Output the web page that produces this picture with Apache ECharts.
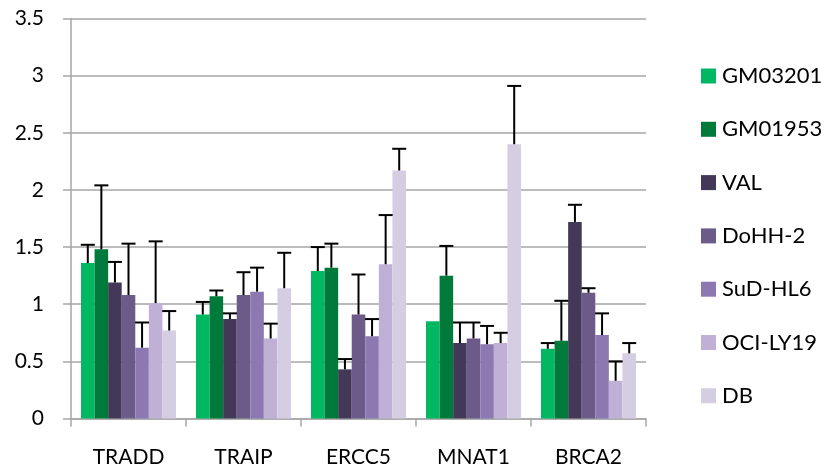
<!DOCTYPE html>
<html><head><meta charset="utf-8">
<script src="https://cdn.jsdelivr.net/npm/echarts@6/dist/echarts.min.js"></script>
<style>html,body{margin:0;padding:0;background:#fff}#c{width:826px;height:471px}</style>
</head><body><div id="c"></div>
<script>
const categories = ['TRADD', 'TRAIP', 'ERCC5', 'MNAT1', 'BRCA2'];
const seriesNames = ['GM03201', 'GM01953', 'VAL', 'DoHH-2', 'SuD-HL6', 'OCI-LY19', 'DB'];
const colors = ['#00B862', '#007A3A', '#433858', '#6C5A89', '#8D78B1', '#C0B0D5', '#D5CDE2'];
const GM03201 = [1.36, 0.91, 1.29, 0.85, 0.61];
const GM01953 = [1.48, 1.07, 1.32, 1.25, 0.68];
const VAL = [1.19, 0.87, 0.43, 0.66, 1.72];
const DoHH2 = [1.08, 1.08, 0.91, 0.70, 1.10];
const SuDHL6 = [0.62, 1.11, 0.72, 0.65, 0.73];
const OCILY19 = [1.01, 0.70, 1.35, 0.66, 0.33];
const DB = [0.77, 1.14, 2.17, 2.40, 0.57];
const errGM03201 = [0.16, 0.11, 0.21, 0, 0.05];
const errGM01953 = [0.56, 0.05, 0.21, 0.26, 0.35];
const errVAL = [0.18, 0.05, 0.09, 0.18, 0.15];
const errDoHH2 = [0.45, 0.20, 0.35, 0.14, 0.04];
const errSuDHL6 = [0.22, 0.21, 0.15, 0.16, 0.19];
const errOCILY19 = [0.54, 0.13, 0.43, 0.09, 0.17];
const errDB = [0.17, 0.31, 0.19, 0.51, 0.09];
const yTicks = [0, 0.5, 1, 1.5, 2, 2.5, 3, 3.5];

const values = [GM03201, GM01953, VAL, DoHH2, SuDHL6, OCILY19, DB];
const errors = [errGM03201, errGM01953, errVAL, errDoHH2, errSuDHL6, errOCILY19, errDB];
const gapPct = 0.174;
const nS = seriesNames.length;

const errData = [];
values.forEach((arr, s) => arr.forEach((v, c) => errData.push([c, v, errors[s][c], s])));

function renderErr(params, api) {
  const c = api.value(0), v = api.value(1), e = api.value(2), s = api.value(3);
  if (!e) return { type: 'group', children: [] };
  const base = api.coord([c, v]);
  const top = api.coord([c, v + e]);
  const band = api.size([1, 0])[0];
  const gw = band * (1 - gapPct);
  const bw = gw / nS;
  const x = base[0] - gw / 2 + bw * (s + 0.5);
  const half = 7;
  const st = { stroke: '#000', lineWidth: 2 };
  return { type: 'group', children: [
    { type: 'line', shape: { x1: x, y1: base[1], x2: x, y2: top[1] }, style: st },
    { type: 'line', shape: { x1: x - half, y1: top[1], x2: x + half, y2: top[1] }, style: st }
  ]};
}

const font = 'Lato, Carlito, "Liberation Sans", sans-serif';
const series = seriesNames.map((n, s) => ({
  name: n, type: 'bar', data: values[s], barGap: '0%', barCategoryGap: (gapPct * 100) + '%',
  itemStyle: { color: colors[s] }, animation: false
}));
series.push({ type: 'custom', renderItem: renderErr, data: errData, encode: { x: 0, y: 1 }, z: 5, animation: false, silent: true });

const chart = echarts.init(document.getElementById('c'), null, { renderer: 'canvas' });
chart.setOption({
  animation: false,
  color: colors,
  grid: { left: 71, right: 180, top: 18.5, bottom: 52.5, containLabel: false },
  legend: {
    orient: 'vertical', left: 696, top: 60, itemWidth: 15, itemHeight: 15, itemGap: 31.3,
    icon: 'rect', data: seriesNames,
    textStyle: { fontFamily: font, fontSize: 22, lineHeight: 20, color: '#000', padding: [0, 0, 0, 1] }
  },
  xAxis: {
    type: 'category', data: categories,
    axisLine: { lineStyle: { color: '#A6A6A6', width: 1.5 } },
    axisTick: { show: true, length: 8, lineStyle: { color: '#A6A6A6', width: 1.5 } },
    axisLabel: { fontFamily: font, fontSize: 21, color: '#000', margin: 28 }
  },
  yAxis: {
    type: 'value', min: 0, max: 3.5, interval: 0.5,
    axisLine: { show: true, lineStyle: { color: '#A6A6A6', width: 1.5 } },
    axisTick: { show: true, length: 8, lineStyle: { color: '#A6A6A6', width: 1.5 } },
    splitLine: { lineStyle: { color: '#A6A6A6', width: 1.5 } },
    axisLabel: { fontFamily: font, fontSize: 21, color: '#000', margin: 27,
      formatter: v => yTicks.includes(v) ? String(v) : '' }
  },
  series
});
</script></body></html>
